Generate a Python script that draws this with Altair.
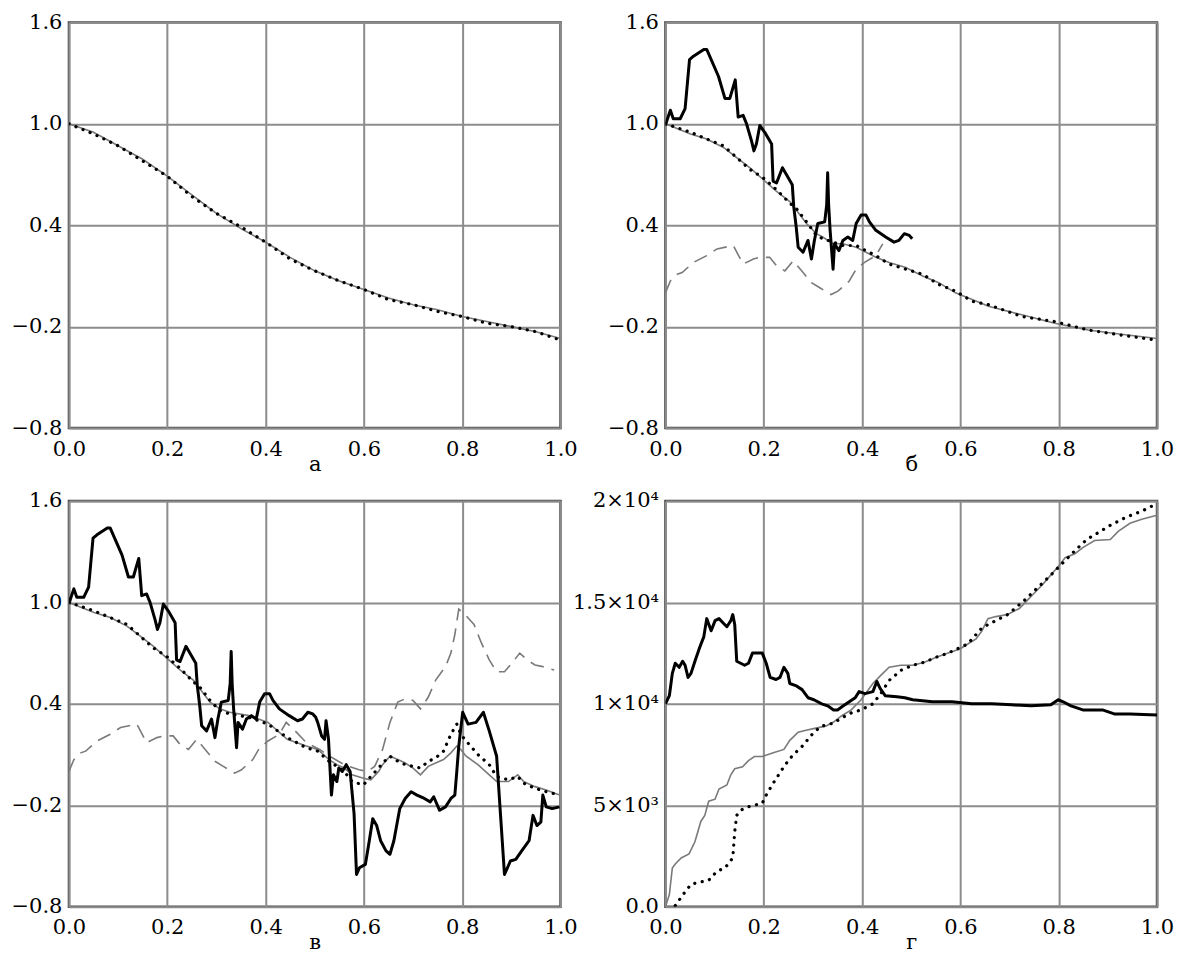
import altair as alt
import pandas as pd

# ---------------- data ----------------
# panel а
A_X = [0, 0.05, 0.1, 0.15, 0.2, 0.25, 0.3, 0.35, 0.4, 0.45, 0.5, 0.55, 0.6, 0.65, 0.7, 0.75, 0.8, 0.85, 0.9, 0.95, 1.0]
A_THIN = [1.0, 0.95, 0.87, 0.79, 0.69, 0.58, 0.47, 0.38, 0.30, 0.21, 0.13, 0.07, 0.02, -0.03, -0.07, -0.10, -0.14, -0.17, -0.20, -0.23, -0.27]
A_DOT = [1.0, 0.94, 0.87, 0.78, 0.69, 0.57, 0.47, 0.39, 0.30, 0.20, 0.13, 0.07, 0.02, -0.04, -0.07, -0.11, -0.14, -0.18, -0.20, -0.23, -0.28]

# panel б
B_THIN_X = [0, 0.051, 0.084, 0.118, 0.145, 0.172, 0.199, 0.226, 0.253, 0.266, 0.287, 0.307, 0.320, 0.341, 0.361,
            0.388, 0.401, 0.428, 0.455, 0.489, 0.523, 0.556, 0.59, 0.624, 0.657, 0.725, 0.792, 0.86, 0.927, 1.0]
B_THIN = [1.0, 0.94, 0.91, 0.86, 0.80, 0.74, 0.67, 0.60, 0.54, 0.49, 0.41, 0.35, 0.33, 0.29, 0.29,
          0.27, 0.25, 0.21, 0.18, 0.15, 0.10, 0.06, 0.0, -0.04, -0.08, -0.13, -0.18, -0.22, -0.245, -0.27]
B_DOT = [1.0, 0.95, 0.91, 0.87, 0.80, 0.73, 0.68, 0.61, 0.53, 0.50, 0.42, 0.34, 0.32, 0.30, 0.28,
         0.28, 0.26, 0.22, 0.17, 0.14, 0.11, 0.05, 0.01, -0.05, -0.07, -0.14, -0.17, -0.22, -0.25, -0.28]
THICK_X1 = [0, 0.003, 0.010, 0.016, 0.030, 0.040, 0.049, 0.057, 0.078, 0.084, 0.108, 0.121, 0.131, 0.142, 0.148,
            0.158, 0.165, 0.175, 0.180, 0.185, 0.192, 0.202, 0.216, 0.219, 0.226, 0.238, 0.246, 0.258, 0.261,
            0.266, 0.270, 0.280, 0.290, 0.297, 0.303, 0.310, 0.324, 0.328, 0.330, 0.332, 0.335, 0.341, 0.344,
            0.353, 0.361, 0.371, 0.381, 0.388, 0.398, 0.408, 0.415, 0.428, 0.448, 0.465, 0.475, 0.486, 0.496, 0.502]
THICK_Y1 = [0.99, 1.02, 1.08, 1.03, 1.03, 1.09, 1.38, 1.40, 1.44, 1.44, 1.28, 1.15, 1.15, 1.26, 1.04,
            1.05, 1.00, 0.90, 0.84, 0.88, 0.99, 0.95, 0.88, 0.66, 0.65, 0.74, 0.70, 0.64, 0.51,
            0.39, 0.27, 0.24, 0.31, 0.20, 0.31, 0.41, 0.42, 0.52, 0.71, 0.52, 0.37, 0.14, 0.29,
            0.25, 0.31, 0.33, 0.31, 0.41, 0.46, 0.46, 0.42, 0.37, 0.33, 0.30, 0.31, 0.35, 0.34, 0.32]
DASH_X1 = [0, 0.010, 0.024, 0.034, 0.057, 0.084, 0.105, 0.138, 0.158, 0.179, 0.192, 0.212, 0.226, 0.243,
           0.260, 0.280, 0.297, 0.314, 0.337, 0.351, 0.374, 0.388, 0.405, 0.428, 0.442]
DASH_Y1 = [0.0, 0.07, 0.11, 0.12, 0.18, 0.22, 0.26, 0.28, 0.17, 0.20, 0.21, 0.21, 0.16, 0.13,
           0.19, 0.12, 0.06, 0.03, -0.01, 0.01, 0.07, 0.14, 0.18, 0.22, 0.29]

# panel в
C_THIN_X = [0, 0.051, 0.084, 0.118, 0.145, 0.172, 0.199, 0.226, 0.253, 0.266, 0.287, 0.307, 0.327, 0.366,
            0.405, 0.444, 0.483, 0.506, 0.529, 0.545, 0.560, 0.576, 0.599, 0.614, 0.630, 0.638, 0.653, 0.669,
            0.684, 0.700, 0.715, 0.731, 0.746, 0.762, 0.777, 0.789, 0.797, 0.808, 0.832, 0.855, 0.870, 0.894,
            0.913, 0.925, 0.948, 0.971, 0.998]
C_THIN = [1.0, 0.94, 0.91, 0.86, 0.80, 0.74, 0.67, 0.60, 0.54, 0.49, 0.41, 0.37, 0.35, 0.33,
          0.29, 0.19, 0.15, 0.13, 0.07, 0.04, 0.02, -0.02, -0.04, -0.05, 0.0, 0.04, 0.09, 0.07,
          0.05, 0.02, -0.02, 0.03, 0.05, 0.07, 0.11, 0.15, 0.13, 0.09, 0.04, -0.02, -0.06, -0.06,
          -0.02, -0.06, -0.09, -0.11, -0.14]
C_DOT = [1.0, 0.95, 0.91, 0.87, 0.80, 0.73, 0.68, 0.61, 0.53, 0.50, 0.42, 0.36, 0.34, 0.32,
         0.28, 0.20, 0.14, 0.12, 0.06, 0.03, 0.0, -0.06, -0.08, -0.03, 0.02, 0.05, 0.09, 0.06,
         0.04, 0.03, 0.02, 0.06, 0.08, 0.12, 0.22, 0.28, 0.22, 0.18, 0.10, 0.04, -0.03, -0.05,
         -0.03, -0.07, -0.10, -0.12, -0.14]
THICK_X2 = [0.506, 0.514, 0.520, 0.523, 0.528, 0.531, 0.534, 0.538, 0.545, 0.549, 0.556, 0.564, 0.572, 0.580,
            0.585, 0.591, 0.603, 0.611, 0.618, 0.626, 0.634, 0.645, 0.653, 0.661, 0.673, 0.684, 0.696, 0.708,
            0.723, 0.735, 0.742, 0.754, 0.766, 0.777, 0.785, 0.789, 0.793, 0.801, 0.812, 0.828, 0.843, 0.855,
            0.870, 0.878, 0.886, 0.898, 0.909, 0.921, 0.936, 0.944, 0.952, 0.960, 0.964, 0.971, 0.983, 0.998]
THICK_Y2 = [0.29, 0.21, 0.19, 0.30, 0.19, 0.02, -0.14, -0.02, -0.06, 0.02, 0.0, 0.04, 0.0, -0.25,
            -0.61, -0.57, -0.55, -0.41, -0.28, -0.32, -0.41, -0.47, -0.49, -0.41, -0.22, -0.16, -0.12, -0.14,
            -0.16, -0.18, -0.15, -0.23, -0.21, -0.16, -0.14, 0.0, 0.15, 0.35, 0.28, 0.29, 0.35, 0.24,
            0.09, -0.26, -0.61, -0.53, -0.52, -0.47, -0.41, -0.26, -0.32, -0.30, -0.14, -0.21, -0.22, -0.21]
DASH_X2 = [0.46, 0.483, 0.51, 0.53, 0.56, 0.59, 0.607, 0.622, 0.638, 0.653, 0.669, 0.684, 0.700, 0.715,
           0.731, 0.746, 0.766, 0.777, 0.785, 0.793, 0.805, 0.824, 0.839, 0.855, 0.870, 0.886, 0.901,
           0.917, 0.932, 0.948, 0.964, 0.987]
DASH_Y2 = [0.24, 0.17, 0.13, 0.09, 0.04, 0.01, 0.0, 0.03, 0.13, 0.29, 0.41, 0.43, 0.42, 0.37,
           0.44, 0.54, 0.62, 0.70, 0.81, 0.96, 0.93, 0.87, 0.76, 0.66, 0.59, 0.59, 0.64,
           0.70, 0.66, 0.63, 0.62, 0.60]

# panel г (values in thousands)
D_THICK_X = [0, 0.008, 0.014, 0.020, 0.028, 0.035, 0.040, 0.046, 0.052, 0.060, 0.070, 0.078, 0.084, 0.093,
             0.101, 0.109, 0.117, 0.125, 0.133, 0.137, 0.141, 0.145, 0.153, 0.161, 0.169, 0.177, 0.189, 0.197,
             0.205, 0.213, 0.225, 0.233, 0.241, 0.249, 0.253, 0.265, 0.278, 0.290, 0.302, 0.318, 0.330, 0.342,
             0.350, 0.362, 0.374, 0.386, 0.394, 0.406, 0.422, 0.430, 0.437, 0.447, 0.471, 0.487, 0.503, 0.543,
             0.583, 0.623, 0.664, 0.704, 0.744, 0.784, 0.799, 0.809, 0.825, 0.849, 0.889, 0.913, 0.945, 1.0]
D_THICK_K = [10.0, 10.4, 11.5, 12.0, 11.8, 12.1, 11.9, 11.3, 11.5, 12.1, 12.8, 13.3, 14.2, 13.6,
             14.1, 14.2, 14.0, 13.8, 14.1, 14.4, 13.9, 12.1, 12.0, 11.9, 12.0, 12.5, 12.5, 12.5,
             12.0, 11.3, 11.2, 11.3, 11.8, 11.5, 11.0, 10.9, 10.7, 10.3, 10.2, 10.0, 9.9, 9.7,
             9.7, 9.9, 10.1, 10.3, 10.6, 10.5, 10.6, 11.1, 10.75, 10.4, 10.35, 10.3, 10.2, 10.1,
             10.1, 10.0, 10.0, 9.95, 9.9, 9.95, 10.2, 10.1, 9.9, 9.7, 9.7, 9.5, 9.5, 9.45]
D_THIN_X = [0, 0.008, 0.014, 0.020, 0.032, 0.048, 0.060, 0.072, 0.080, 0.088, 0.101, 0.109, 0.125, 0.133,
            0.141, 0.157, 0.169, 0.181, 0.197, 0.221, 0.241, 0.253, 0.270, 0.286, 0.306, 0.326, 0.342, 0.358,
            0.378, 0.398, 0.422, 0.438, 0.455, 0.479, 0.503, 0.527, 0.551, 0.575, 0.599, 0.615, 0.632, 0.644,
            0.656, 0.672, 0.696, 0.720, 0.736, 0.752, 0.768, 0.784, 0.800, 0.813, 0.833, 0.849, 0.873, 0.905,
            0.921, 0.945, 0.969, 1.0]
D_THIN_K = [0, 0.6, 1.9, 2.1, 2.4, 2.6, 3.2, 4.2, 4.5, 5.2, 5.3, 5.8, 6.0, 6.5,
            6.8, 6.9, 7.2, 7.4, 7.4, 7.6, 7.75, 8.2, 8.6, 8.7, 8.8, 8.9, 9.1, 9.4,
            9.7, 10.2, 11.0, 11.4, 11.8, 11.9, 11.9, 12.05, 12.3, 12.5, 12.7, 12.95, 13.2, 13.6,
            14.2, 14.3, 14.4, 14.7, 15.1, 15.5, 15.9, 16.35, 16.8, 17.2, 17.4, 17.7, 18.05, 18.1,
            18.5, 18.9, 19.1, 19.3]
D_DOT_X = [0.020, 0.036, 0.052, 0.068, 0.088, 0.105, 0.121, 0.137, 0.141, 0.145, 0.153, 0.165, 0.181, 0.197,
           0.205, 0.217, 0.229, 0.241, 0.253, 0.265, 0.278, 0.290, 0.302, 0.318, 0.342, 0.358, 0.378, 0.398,
           0.422, 0.438, 0.455, 0.479, 0.503, 0.527, 0.551, 0.575, 0.615, 0.644, 0.696, 0.728, 0.784, 0.833,
           0.857, 0.881, 0.905, 0.937, 0.969, 0.99]
D_DOT_K = [0.05, 0.6, 1.1, 1.2, 1.3, 1.75, 1.9, 2.4, 3.7, 4.5, 4.75, 4.9, 5.0, 5.1,
           5.5, 6.0, 6.45, 6.9, 7.3, 7.6, 7.9, 8.25, 8.6, 8.9, 9.05, 9.3, 9.55, 9.7,
           10.0, 10.5, 11.15, 11.65, 11.9, 12.05, 12.3, 12.5, 12.95, 13.75, 14.4, 15.05, 16.35, 17.55,
           18.1, 18.45, 18.8, 19.2, 19.5, 19.75]

X_TICKS = [0.0, 0.2, 0.4, 0.6, 0.8, 1.0]
Y_TICKS = [-0.8, -0.2, 0.4, 1.0, 1.6]
D_TICKS = [0, 5, 10, 15, 20]
D_LABELS = ["0.0", "5×10³", "1×10⁴", "1.5×10⁴", "2×10⁴"]
TITLES = ["а", "б", "в", "г"]

# ---------------- styling ----------------
FONT = "DejaVu Serif"
FS = 21
W, H = 492, 406
STYLES = {
    "thin": dict(color="#7a7a7a", strokeWidth=1.6),
    "dash": dict(color="#7a7a7a", strokeWidth=1.6, strokeDash=[14, 8]),
    "dot": dict(color="black", strokeWidth=3.2, strokeDash=[0.1, 7.5], strokeCap="round"),
    "thick": dict(color="black", strokeWidth=3, strokeJoin="round"),
}


def df(xs, ys):
    return pd.DataFrame({"x": xs, "y": ys})


def panel(series, title, domain, ticks, label_expr=None):
    x = alt.X("x:Q", scale=alt.Scale(domain=[0, 1], nice=False, zero=False),
              axis=alt.Axis(values=X_TICKS, format=".1f", title=title))
    yaxis_kw = dict(values=ticks, format=".1f", title=None)
    if label_expr:
        yaxis_kw["labelExpr"] = label_expr
    y = alt.Y("y:Q", scale=alt.Scale(domain=domain, nice=False, zero=False), axis=alt.Axis(**yaxis_kw))
    layers = [alt.Chart(data).mark_line(clip=True, **STYLES[kind]).encode(x=x, y=y)
              for kind, data in series]
    return alt.layer(*layers).properties(width=W, height=H)


pa = panel([("thin", df(A_X, A_THIN)), ("dot", df(A_X, A_DOT))], TITLES[0], [-0.8, 1.6], Y_TICKS)
pb = panel([("thin", df(B_THIN_X, B_THIN)), ("dash", df(DASH_X1, DASH_Y1)),
            ("dot", df(B_THIN_X, B_DOT)), ("thick", df(THICK_X1, THICK_Y1))],
           TITLES[1], [-0.8, 1.6], Y_TICKS)
pc = panel([("thin", df(C_THIN_X, C_THIN)), ("dash", df(DASH_X1 + DASH_X2, DASH_Y1 + DASH_Y2)),
            ("dot", df(C_THIN_X, C_DOT)), ("thick", df(THICK_X1 + THICK_X2, THICK_Y1 + THICK_Y2))],
           TITLES[2], [-0.8, 1.6], Y_TICKS)
expr = " : ".join(f"datum.value == {v} ? '{l}'" for v, l in zip(D_TICKS[:-1], D_LABELS[:-1])) + f" : '{D_LABELS[-1]}'"
pd_ = panel([("thin", df(D_THIN_X, D_THIN_K)), ("dot", df(D_DOT_X, D_DOT_K)),
             ("thick", df(D_THICK_X, D_THICK_K))],
            TITLES[3], [0, 20], D_TICKS, label_expr=expr)

chart = alt.concat(pa, pb, pc, pd_, columns=2, spacing={"row": 73, "column": 105}, bounds="flush").properties(
    padding={"left": 1, "top": 1, "right": 0, "bottom": 0},
    background="white",
).configure_axis(
    grid=True, gridColor="#8c8c8c", gridWidth=2, gridOpacity=1,
    ticks=False, domain=False,
    labelFont=FONT, labelFontSize=FS, labelColor="black",
    labelFlush=False, labelOverlap=False, labelBound=False,
    titleFont=FONT, titleFontSize=FS, titleFontWeight="normal", titleColor="black",
).configure_axisX(
    labelPadding=10, titleBaseline="alphabetic", titleY=42,
).configure_axisY(
    labelPadding=7,
).configure_view(
    stroke="#4a4a4a", strokeWidth=2.5,
)

chart.save("out.html", embed_options={"renderer": "svg", "actions": False})
